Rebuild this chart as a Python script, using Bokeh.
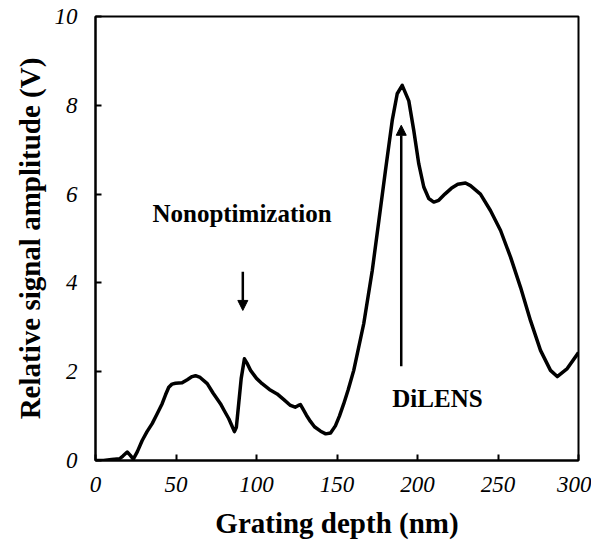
from bokeh.plotting import figure
from bokeh.models import Arrow, NormalHead, Label, Range1d, FixedTicker
from bokeh.embed import file_html
from bokeh.resources import INLINE

depth = [0, 5, 10, 15, 17, 19.7, 21.5, 23.5, 26, 29, 32, 35.2, 38, 41.4, 43.5, 45.5, 47.5, 49.7,
         53.8, 57, 60, 62.1, 65, 69.4, 73, 77.6, 80, 82.8, 84.5, 86.3, 87.5, 89, 90.5, 92.5, 94,
         96.3, 100, 103.5, 108, 112.8, 117, 121.1, 124, 126, 127.3, 129, 131, 133.5, 136, 139.8,
         143, 146, 149, 151.5, 154.2, 157, 160.4, 166.6, 171.9, 176, 180.1, 184.3, 187.4, 190.5,
         194.6, 197.7, 200.8, 203.9, 207, 210.1, 213.2, 217, 221, 225, 229.8, 232.9, 239.1, 245.3,
         251.6, 257.8, 264, 270.2, 276.4, 282.6, 286.8, 293, 300]
signal = [0.0, 0.0, 0.02, 0.04, 0.1, 0.19, 0.12, 0.03, 0.2, 0.45, 0.65, 0.83, 1.03, 1.28, 1.48,
          1.65, 1.72, 1.74, 1.75, 1.82, 1.89, 1.91, 1.87, 1.73, 1.52, 1.28, 1.12, 0.94, 0.8, 0.65,
          0.75, 1.3, 1.85, 2.29, 2.2, 2.03, 1.85, 1.73, 1.6, 1.5, 1.37, 1.24, 1.2, 1.24, 1.26, 1.15,
          1.02, 0.88, 0.76, 0.66, 0.6, 0.62, 0.78, 1.0, 1.28, 1.6, 2.03, 3.08, 4.28, 5.4, 6.53,
          7.66, 8.26, 8.45, 8.1, 7.43, 6.68, 6.16, 5.9, 5.82, 5.86, 6.0, 6.13, 6.22, 6.25, 6.19, 6.0,
          5.63, 5.18, 4.58, 3.9, 3.15, 2.48, 2.03, 1.89, 2.07, 2.43]

x_ticks = [0, 50, 100, 150, 200, 250, 300]
y_ticks = [0, 2, 4, 6, 8, 10]

p = figure(width=591, height=542, output_backend="svg", toolbar_location=None,
           x_range=Range1d(0, 300), y_range=Range1d(0, 10),
           min_border_left=95, min_border_right=13, min_border_top=16, min_border_bottom=82)
p.grid.visible = False
p.outline_line_color = "black"
p.outline_line_width = 2
p.outline_line_alpha = 1

for ax in (p.xaxis[0], p.yaxis[0]):
    ax.major_tick_in = 6
    ax.major_tick_out = 0
    ax.minor_tick_in = 0
    ax.minor_tick_out = 0
    ax.axis_line_width = 2
    ax.major_tick_line_width = 2
    ax.major_label_text_font = "Liberation Serif"
    ax.major_label_text_font_style = "italic"
    ax.major_label_text_font_size = "23px"
    ax.major_label_text_color = "black"
    ax.axis_label_text_font = "Liberation Serif"
    ax.axis_label_text_font_style = "bold"
    ax.axis_label_text_font_size = "29px"
    ax.axis_label_text_color = "black"

p.xaxis[0].ticker = FixedTicker(ticks=x_ticks)
p.yaxis[0].ticker = FixedTicker(ticks=y_ticks)
p.xaxis[0].axis_label = "Grating depth (nm)"
p.yaxis[0].axis_label = "Relative signal amplitude (V)"
p.xaxis[0].major_label_standoff = 16
p.yaxis[0].major_label_standoff = 18
p.xaxis[0].axis_label_standoff = 12
p.yaxis[0].axis_label_standoff = 6

p.line(depth, signal, line_color="black", line_width=3.5, line_join="round")

p.add_layout(Arrow(end=NormalHead(size=10, fill_color="black", line_color="black"),
                   x_start=91.5, y_start=4.25, x_end=91.5, y_end=3.38,
                   line_width=2.5, line_color="black"))
p.add_layout(Arrow(end=NormalHead(size=10, fill_color="black", line_color="black"),
                   x_start=189.9, y_start=2.12, x_end=189.9, y_end=7.55,
                   line_width=2.5, line_color="black"))

p.add_layout(Label(x=91, y=5.56, text="Nonoptimization", text_align="center",
                   text_baseline="middle", text_font="Liberation Serif",
                   text_font_style="bold", text_font_size="25px", text_color="black"))
p.add_layout(Label(x=212.4, y=1.4, text="DiLENS", text_align="center",
                   text_baseline="middle", text_font="Liberation Serif",
                   text_font_style="bold", text_font_size="25px", text_color="black"))

open("out.html", "w").write(file_html(p, INLINE))
